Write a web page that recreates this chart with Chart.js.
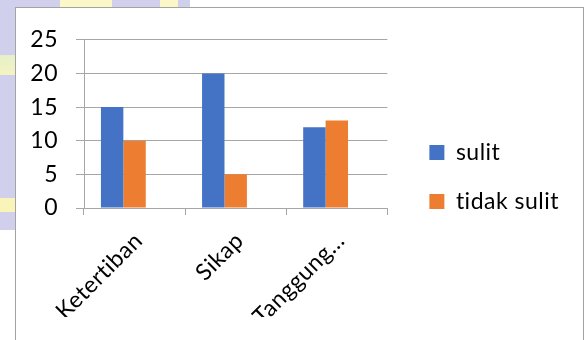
<!DOCTYPE html>
<html lang="id">
<head>
    <meta charset="UTF-8">
    <title>sulit / tidak sulit</title>
    <script src="https://cdn.jsdelivr.net/npm/chart.js"></script>
    <style>
        body {
            margin: 0;
            width: 584px;
            height: 340px;
            overflow: hidden;
            background: #fff;
            position: relative;
        }
        /* faint page decoration behind the chart frame */
        .deco {
            position: absolute;
            left: 0;
            top: 0;
            width: 190px;
            height: 230px;
            background:
                linear-gradient(90deg, transparent 60px, #fbf7c8 60px, #fbf7c8 112px, transparent 112px, transparent 160px, #fbf7c8 160px, #fbf7c8 178px, transparent 178px),
                linear-gradient(180deg, transparent 55px, #e4f0c8 55px, #f6f3c2 75px, transparent 75px, transparent 198px, #faf4b8 198px, #faf4b8 212px, transparent 212px),
                #d0cfec;
        }
        .frame {
            position: absolute;
            left: 15px;
            top: 7px;
            width: 567px;
            height: 340px;
            border: 1px solid #a3a3a3;
            background: #fff;
        }
    </style>
</head>
<body>
    <div class="deco"></div>
    <div class="frame">
        <canvas id="chart" width="567" height="332"></canvas>
    </div>
    <script>
        const categories = ['Ketertiban', 'Sikap', 'Tanggung…'];
        const sulit = [15, 20, 12];
        const tidakSulit = [10, 5, 13];
        // third column of the sheet is empty but still takes a slot in each group
        const kosong = [null, null, null];
        const yTicks = [0, 5, 10, 15, 20, 25];

        const FONT = { family: "Lato, sans-serif", size: 23 };
        const GRID = '#a6a6a6';

        // a touch of letter spacing also turns off Lato's "ti" ligature
        const spacing = {
            id: 'spacing',
            beforeLayout(chart) { chart.ctx.letterSpacing = '0.5px'; },
            beforeDraw(chart) { chart.ctx.letterSpacing = '0.5px'; }
        };

        new Chart(document.getElementById('chart'), {
            type: 'bar',
            plugins: [spacing],
            data: {
                labels: categories,
                datasets: [
                    { label: 'sulit', data: sulit, backgroundColor: '#4472c4', borderWidth: 0 },
                    { label: 'tidak sulit', data: tidakSulit, backgroundColor: '#ed7d31', borderWidth: 0 },
                    { label: '', data: kosong, backgroundColor: '#a5a5a5', borderWidth: 0 }
                ]
            },
            options: {
                responsive: false,
                animation: false,
                layout: { padding: { top: 29, left: 0, right: 14, bottom: 23 } },
                datasets: { bar: { categoryPercentage: 0.665, barPercentage: 1 } },
                plugins: {
                    tooltip: { enabled: false },
                    legend: {
                        position: 'right',
                        maxWidth: 220,
                        labels: {
                            color: '#000',
                            font: FONT,
                            boxWidth: 15,
                            boxHeight: 15,
                            padding: 26,
                            filter: item => item.text !== ''
                        }
                    }
                },
                scales: {
                    x: {
                        grid: { display: true, drawOnChartArea: false, tickLength: 7, color: GRID },
                        border: { color: GRID },
                        ticks: { color: '#000', font: FONT, minRotation: 45, maxRotation: 45, padding: 12, labelOffset: 4 },
                        afterFit(scale) { scale.height = 109; }
                    },
                    y: {
                        min: 0,
                        max: 25,
                        afterBuildTicks(scale) { scale.ticks = yTicks.map(v => ({ value: v })); },
                        grid: { color: GRID, tickLength: 8 },
                        border: { color: GRID },
                        ticks: { color: '#000', font: FONT, padding: 18 },
                        afterFit(scale) { scale.width = 68; }
                    },
                    // empty spacer between plot and legend
                    gap: {
                        position: 'right',
                        grid: { display: false },
                        border: { display: false },
                        ticks: { display: false },
                        afterFit(scale) { scale.width = 16; }
                    }
                }
            }
        });
    </script>
</body>
</html>
